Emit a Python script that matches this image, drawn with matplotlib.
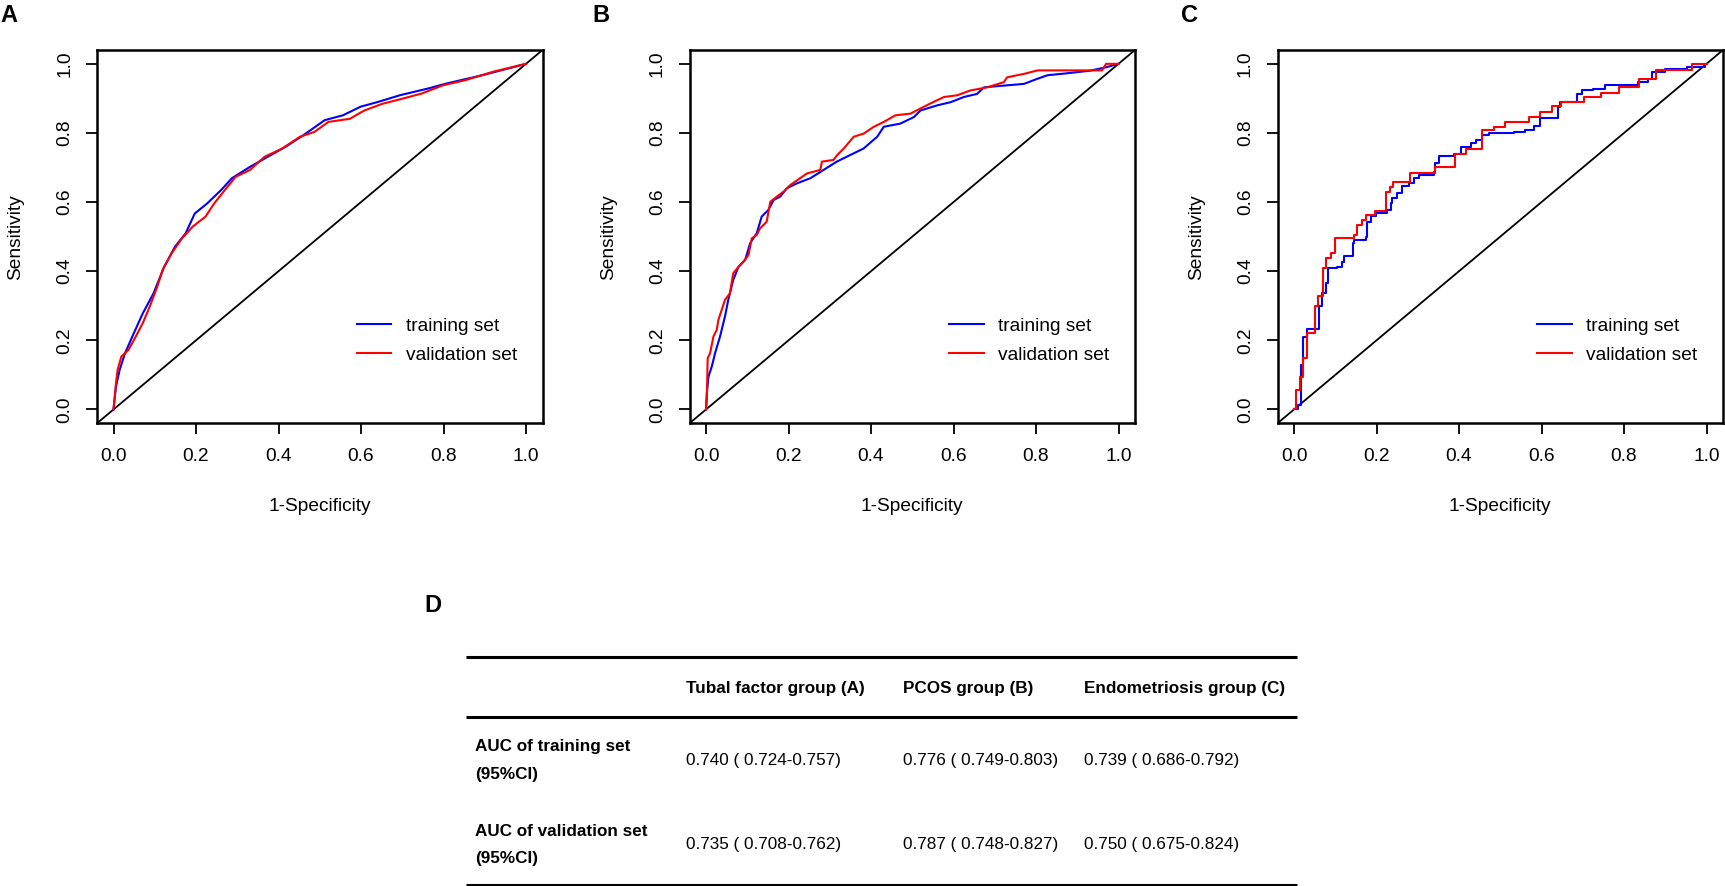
import matplotlib
matplotlib.use("Agg")
import matplotlib.pyplot as plt
from matplotlib.lines import Line2D

plt.rcParams['font.family'] = ['Liberation Sans', 'DejaVu Sans']

# ---------------- data ----------------
ticks = [0.0, 0.2, 0.4, 0.6, 0.8, 1.0]
tick_labels = ["0.0", "0.2", "0.4", "0.6", "0.8", "1.0"]
series_names = ["training set", "validation set"]
series_colors = ["#0000FF", "#FF0000"]
panel_letters = ["A", "B", "C"]

A_train_fpr = [0, 0.006, 0.015, 0.028, 0.049, 0.071, 0.097, 0.123, 0.149, 0.175, 0.197, 0.227, 0.261, 0.287,
               0.331, 0.374, 0.417, 0.461, 0.512, 0.556, 0.599, 0.642, 0.694, 0.764, 0.807, 0.894, 1.0]
A_train_tpr = [0, 0.066, 0.115, 0.163, 0.22, 0.278, 0.336, 0.413, 0.471, 0.51, 0.567, 0.596, 0.635, 0.669,
               0.702, 0.731, 0.76, 0.794, 0.837, 0.851, 0.876, 0.89, 0.909, 0.929, 0.943, 0.967, 1.0]
A_val_fpr = [0, 0.006, 0.010, 0.019, 0.036, 0.054, 0.071, 0.088, 0.106, 0.119, 0.141, 0.166, 0.192, 0.223,
             0.244, 0.27, 0.296, 0.331, 0.366, 0.409, 0.452, 0.487, 0.521, 0.573, 0.608, 0.651, 0.703, 0.747,
             0.799, 0.851, 0.92, 1.0]
A_val_tpr = [0, 0.076, 0.115, 0.153, 0.172, 0.211, 0.25, 0.298, 0.355, 0.404, 0.452, 0.495, 0.529, 0.558,
             0.596, 0.635, 0.673, 0.693, 0.731, 0.755, 0.789, 0.803, 0.832, 0.841, 0.865, 0.884, 0.9, 0.914,
             0.938, 0.952, 0.977, 1.0]

B_train_fpr = [0, 0.002, 0.006, 0.014, 0.022, 0.034, 0.046, 0.054, 0.066, 0.079, 0.095, 0.107, 0.123, 0.135,
               0.151, 0.164, 0.18, 0.196, 0.22, 0.253, 0.285, 0.317, 0.358, 0.382, 0.415, 0.431, 0.471, 0.504,
               0.52, 0.561, 0.593, 0.625, 0.657, 0.674, 0.722, 0.771, 0.804, 0.828, 0.87, 0.93, 0.97, 1.0]
B_train_tpr = [0, 0.047, 0.095, 0.124, 0.163, 0.211, 0.269, 0.317, 0.375, 0.413, 0.433, 0.481, 0.51, 0.558,
               0.577, 0.606, 0.616, 0.64, 0.654, 0.669, 0.693, 0.717, 0.741, 0.755, 0.789, 0.818, 0.827, 0.846,
               0.865, 0.88, 0.889, 0.904, 0.913, 0.932, 0.937, 0.942, 0.957, 0.967, 0.972, 0.98, 0.99, 1.0]
B_val_fpr = [0, 0.002, 0.003, 0.004, 0.01, 0.014, 0.018, 0.026, 0.03, 0.038, 0.046, 0.058, 0.066, 0.079,
             0.091, 0.103, 0.111, 0.123, 0.131, 0.147, 0.156, 0.172, 0.188, 0.204, 0.228, 0.245, 0.277, 0.281,
             0.309, 0.318, 0.334, 0.358, 0.382, 0.407, 0.431, 0.459, 0.496, 0.52, 0.552, 0.577, 0.609, 0.641,
             0.682, 0.722, 0.73, 0.771, 0.804, 0.96, 0.97, 1.0]
B_val_tpr = [0, 0.033, 0.086, 0.148, 0.163, 0.187, 0.211, 0.23, 0.259, 0.288, 0.317, 0.336, 0.394, 0.413,
             0.428, 0.447, 0.495, 0.505, 0.524, 0.543, 0.601, 0.616, 0.63, 0.649, 0.669, 0.683, 0.693, 0.717,
             0.722, 0.736, 0.755, 0.789, 0.798, 0.818, 0.832, 0.851, 0.856, 0.871, 0.89, 0.904, 0.909, 0.923,
             0.932, 0.947, 0.961, 0.971, 0.981, 0.981, 1.0, 1.0]

C_train_fpr = [0, 0.010, 0.016, 0.022, 0.031, 0.061, 0.069, 0.077, 0.083, 0.105, 0.117, 0.121, 0.143, 0.145,
               0.175, 0.178, 0.186, 0.198, 0.226, 0.234, 0.238, 0.25, 0.262, 0.278, 0.291, 0.303, 0.339, 0.343,
               0.351, 0.387, 0.404, 0.428, 0.44, 0.456, 0.472, 0.533, 0.561, 0.581, 0.597, 0.641, 0.645, 0.685,
               0.697, 0.726, 0.754, 0.835, 0.859, 0.867, 0.90, 0.952, 0.996, 1.0]
C_train_tpr = [0, 0.013, 0.13, 0.21, 0.232, 0.30, 0.336, 0.365, 0.408, 0.413, 0.428, 0.444, 0.481, 0.49,
               0.50, 0.543, 0.56, 0.567, 0.577, 0.596, 0.613, 0.625, 0.646, 0.656, 0.669, 0.678, 0.688, 0.712,
               0.733, 0.739, 0.76, 0.77, 0.781, 0.794, 0.80, 0.803, 0.809, 0.819, 0.844, 0.874, 0.89, 0.912,
               0.924, 0.926, 0.938, 0.948, 0.957, 0.977, 0.984, 0.992, 1.0, 1.0]
C_val_fpr = [0, 0.004, 0.014, 0.022, 0.032, 0.051, 0.059, 0.07, 0.078, 0.089, 0.099, 0.145, 0.153, 0.164,
             0.174, 0.196, 0.222, 0.232, 0.24, 0.28, 0.343, 0.39, 0.417, 0.456, 0.484, 0.512, 0.569, 0.597,
             0.625, 0.648, 0.703, 0.745, 0.787, 0.837, 0.878, 0.965, 1.0]
C_val_tpr = [0, 0.057, 0.095, 0.148, 0.221, 0.30, 0.328, 0.408, 0.437, 0.452, 0.495, 0.505, 0.534, 0.548,
             0.563, 0.575, 0.628, 0.645, 0.659, 0.685, 0.702, 0.739, 0.755, 0.808, 0.818, 0.832, 0.845, 0.86,
             0.878, 0.891, 0.905, 0.916, 0.932, 0.957, 0.983, 1.0, 1.0]

# table content
table_header = ["Tubal factor group (A)", "PCOS group (B)", "Endometriosis group (C)"]
row_labels = [("AUC of training set", "(95%CI)"), ("AUC of validation set", "(95%CI)")]
auc_training = ["0.740 ( 0.724-0.757)", "0.776 ( 0.749-0.803)", "0.739 ( 0.686-0.792)"]
auc_validation = ["0.735 ( 0.708-0.762)", "0.787 ( 0.748-0.827)", "0.750 ( 0.675-0.824)"]

# ---------------- figure ----------------
W, H = 1725, 886
fig = plt.figure(figsize=(W / 100, H / 100), dpi=100)

panels = [
    (A_train_fpr, A_train_tpr, A_val_fpr, A_val_tpr, 'default'),
    (B_train_fpr, B_train_tpr, B_val_fpr, B_val_tpr, 'default'),
    (C_train_fpr, C_train_tpr, C_val_fpr, C_val_tpr, 'steps-post'),
]
box_lefts = [97, 689.5, 1277.5]
box_w, box_top, box_bottom = 445.5, 50, 423.3

FS = 13.8
for i, (tf, tt, vf, vt, ds) in enumerate(panels):
    ax = fig.add_axes([box_lefts[i] / W, 1 - box_bottom / H, box_w / W, (box_bottom - box_top) / H])
    ax.set_xlim(-0.04, 1.04)
    ax.set_ylim(-0.04, 1.04)
    ax.axline((0, 0), slope=1, color='black', lw=1.3, zorder=1)
    ax.plot(tf, tt, color=series_colors[0], lw=1.5, drawstyle=ds, label=series_names[0], zorder=2)
    ax.plot(vf, vt, color=series_colors[1], lw=1.5, drawstyle=ds, label=series_names[1], zorder=3)
    for s in ax.spines.values():
        s.set_linewidth(1.8)
    ax.set_xticks(ticks)
    ax.set_xticklabels(tick_labels)
    ax.set_yticks(ticks)
    ax.set_yticklabels(tick_labels, rotation=90, va='center')
    ax.tick_params(axis='both', direction='out', length=8, width=1.3, labelsize=FS)
    ax.tick_params(axis='x', pad=10)
    ax.tick_params(axis='y', pad=9)
    ax.text(0.5, -0.224, "1-Specificity", transform=ax.transAxes, ha='center', va='center', fontsize=FS)
    ax.text(-0.182, 0.5, "Sensitivity", transform=ax.transAxes, ha='center', va='center',
            rotation=90, fontsize=FS)
    ax.legend(loc='center left', bbox_to_anchor=(0.583, 0.222), frameon=False, fontsize=FS,
              handlelength=1.8, handletextpad=0.75, labelspacing=0.6, borderpad=0, borderaxespad=0)

# overlay axes in pixel coordinates for labels and the table
ov = fig.add_axes([0, 0, 1, 1], facecolor='none')
ov.set_xlim(0, W)
ov.set_ylim(H, 0)
ov.axis('off')

letter_x = [0, 592.5, 1181.5]
for lx, letter in zip(letter_x, panel_letters):
    ov.text(lx, 15.5, letter, fontsize=17, fontweight='bold', ha='left', va='center')
ov.text(424.5, 606, "D", fontsize=17, fontweight='bold', ha='left', va='center')

# table
tx0, tx1 = 466, 1297
for yy in [656.7, 716.7, 884.5]:
    ov.add_line(Line2D([tx0, tx1], [yy, yy], color='black', lw=2.2, solid_capstyle='butt'))

col_x = [686, 902.7, 1084]
TFS = 12.3
for cx, htxt in zip(col_x, table_header):
    ov.text(cx, 688, htxt, fontsize=TFS, fontweight='bold', ha='left', va='center')

row_y = [(747, 775, 760.7), (831, 858, 844)]
for (l1, l2), (y1, y2, yv), vals in zip(row_labels, row_y, [auc_training, auc_validation]):
    ov.text(475, y1, l1, fontsize=TFS, fontweight='bold', ha='left', va='center')
    ov.text(475, y2, l2, fontsize=TFS, fontweight='bold', ha='left', va='center')
    for cx, v in zip(col_x, vals):
        ov.text(cx, yv, v, fontsize=TFS, ha='left', va='center')

fig.savefig("out.png", dpi=100)
